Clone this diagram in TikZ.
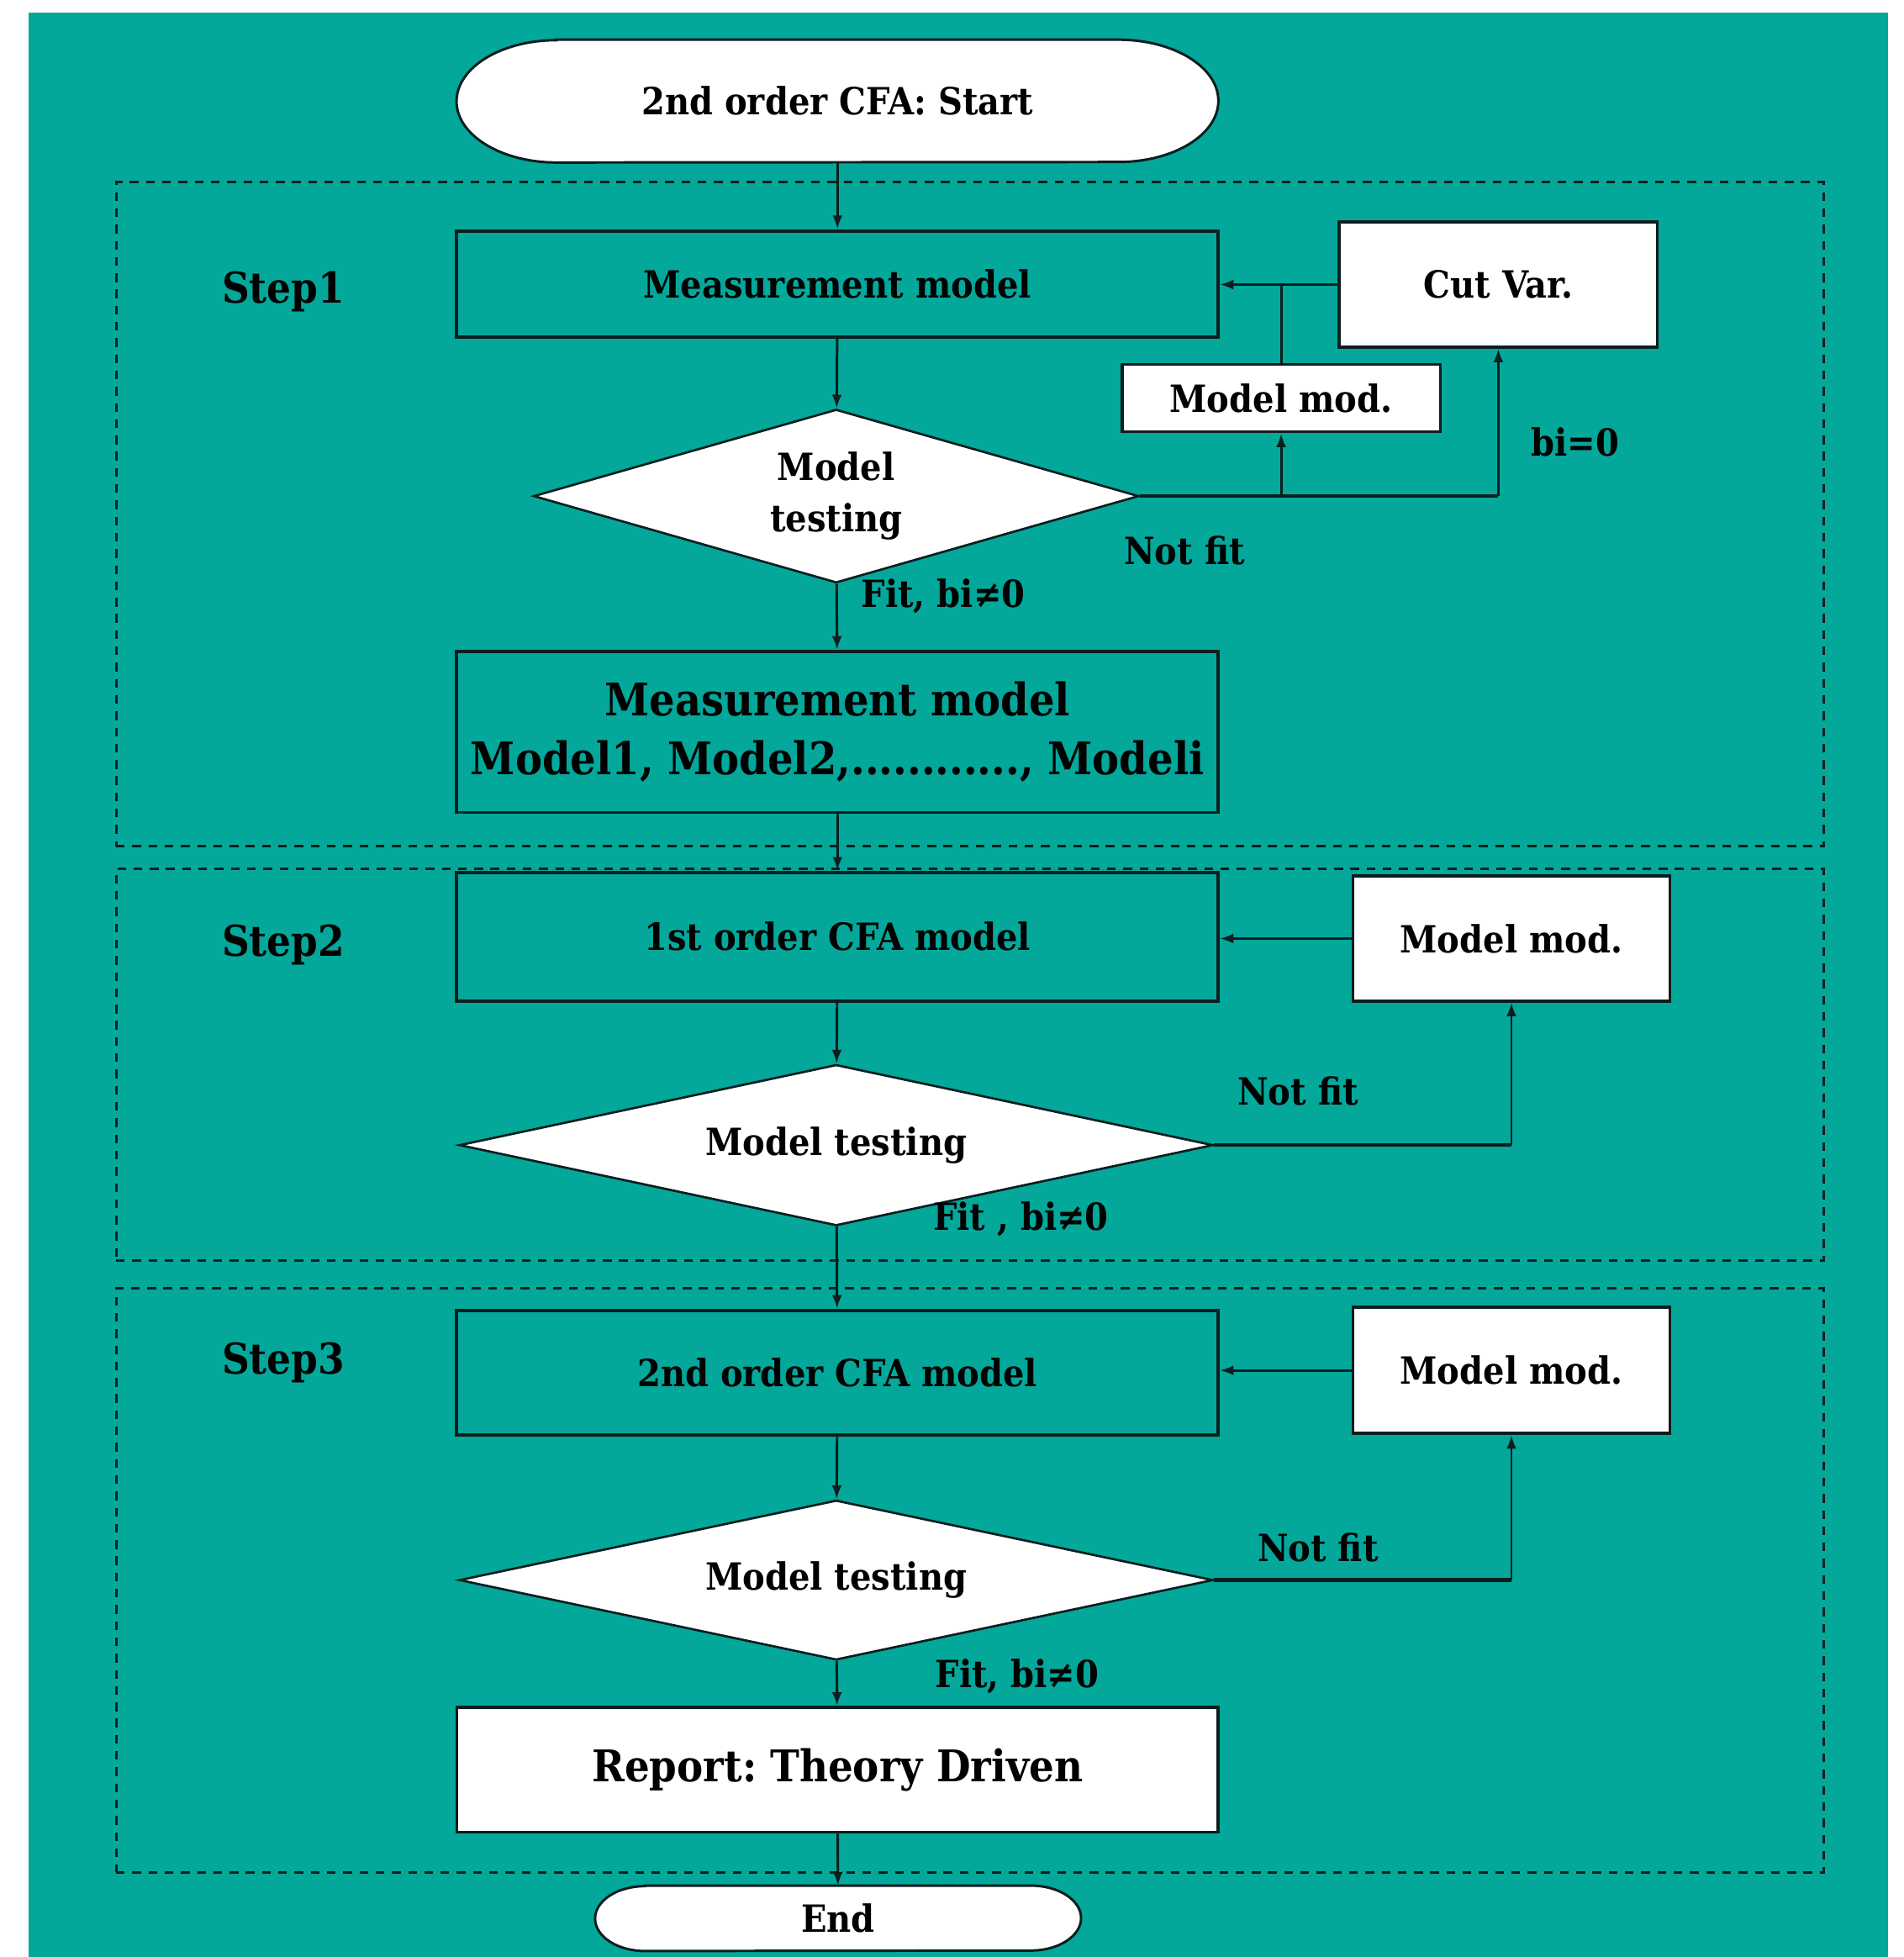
\documentclass[tikz,border=0pt]{standalone}
\usepackage{fontspec}
\setmainfont{DejaVu Serif Condensed}
\usetikzlibrary{shapes.geometric,arrows.meta,backgrounds}
\definecolor{bgteal}{RGB}{3,168,155}
\definecolor{ink}{RGB}{12,30,30}
\frenchspacing
\begin{document}
\begin{tikzpicture}[x=1pt,y=1pt,
  line/.style={draw=ink, line width=2pt},
  arr/.style={line, -{Latex[length=11pt,width=8pt]}},
  heavy/.style={draw=ink, line width=3pt},
  txt/.style={font=\bfseries\fontsize{30}{41}\selectfont, inner sep=0pt},
  tealbox/.style={txt, draw=ink, line width=2.6pt, fill=bgteal, minimum width=610pt, align=center},
  whitebox/.style={txt, draw=ink, line width=2.4pt, fill=white},
  test/.style={txt, diamond, draw=ink, line width=1.8pt, fill=white, align=center},
  term/.style={txt},
  termline/.style={draw=ink, line width=2pt, fill=white},
  frame/.style={draw=ink, line width=2pt, dash pattern=on 7pt off 6pt, inner sep=0pt},
  steplabel/.style={font=\bfseries\fontsize{34}{40}\selectfont, inner sep=0pt},
  edgelabel/.style={txt}]
\useasboundingbox (0,0) rectangle (1525,-1568);
\begin{scope}[on background layer]
  \fill[white] (0,0) rectangle (1525,-1568);
  \fill[bgteal] (23,-10) rectangle (1513,-1568);
\end{scope}

% dashed step frames
\node[frame, minimum width=1368pt, minimum height=532pt] (frame1) at (777,-412) {};
\node[frame, minimum width=1368pt, minimum height=314pt] (frame2) at (777,-853) {};
\node[frame, minimum width=1368pt, minimum height=468pt] (frame3) at (777,-1266) {};

\node[steplabel] (s1) at (227,-234) {Step1};
\node[steplabel] (s2) at (227,-757) {Step2};
\node[steplabel] (s3) at (227,-1092) {Step3};

% terminals
\node[term, minimum width=610pt, minimum height=98pt] (start) at (671,-81) {2nd order CFA: Start};
\node[term, minimum width=389pt, minimum height=52pt] (endnode) at (671.5,-1537) {End};
\begin{scope}[on background layer]
  \path[termline] ([xshift=80pt]start.north west) -- ([xshift=-80pt]start.north east)
     arc[start angle=90, end angle=-90, x radius=80pt, y radius=49pt]
     -- ([xshift=80pt]start.south west)
     arc[start angle=270, end angle=90, x radius=80pt, y radius=49pt] -- cycle;
  \path[termline] ([xshift=40pt]endnode.north west) -- ([xshift=-40pt]endnode.north east)
     arc[start angle=90, end angle=-90, x radius=40pt, y radius=26pt]
     -- ([xshift=40pt]endnode.south west)
     arc[start angle=270, end angle=90, x radius=40pt, y radius=26pt] -- cycle;
\end{scope}

% step 1
\node[tealbox, minimum height=85pt] (mm1) at (671,-227.5) {Measurement model};
\node[whitebox, minimum width=255pt, minimum height=100pt] (cutvar) at (1200.5,-228) {Cut Var.};
\node[whitebox, minimum width=255pt, minimum height=54pt] (mod1) at (1026.5,-319) {Model mod.};
\node[test, minimum width=485pt, minimum height=139pt, aspect=3.49] (test1) at (670,-397.5) {Model\\testing};
\node[tealbox, minimum height=129pt, font=\bfseries\fontsize{36}{47}\selectfont] (mm2) at (671,-586.5)
  {Measurement model\\Model1, Model2,............, Modeli};

% step 2
\node[tealbox, minimum height=103pt] (cfa1) at (671,-750.5) {1st order CFA model};
\node[whitebox, minimum width=254pt, minimum height=100pt] (mod2) at (1211,-752) {Model mod.};
\node[test, minimum width=604pt, minimum height=129pt, aspect=4.68] (test2) at (670,-917.5) {Model testing};

% step 3
\node[tealbox, minimum height=100pt] (cfa2) at (671,-1100) {2nd order CFA model};
\node[whitebox, minimum width=254pt, minimum height=101pt] (mod3) at (1211,-1098) {Model mod.};
\node[test, minimum width=604pt, minimum height=128pt, aspect=4.72] (test3) at (670,-1266) {Model testing};
\node[whitebox, minimum width=610pt, minimum height=100pt, font=\bfseries\fontsize{35}{40}\selectfont] (report) at (671,-1418) {Report: Theory Driven};

% connectors, step 1
\draw[arr] (start) -- (mm1);
\draw[arr] (cutvar.west) -- (cutvar.west -| mm1.east);
\draw[line] (mod1.north) -- (mod1.north |- cutvar.west);
\draw[arr] (mm1) -- (test1);
\draw[heavy] (test1.east) -- (test1.east -| cutvar.south);
\draw[arr] (test1.east -| cutvar.south) -- (cutvar.south);
\draw[arr] (test1.east -| mod1.south) -- (mod1.south);
\draw[arr] (test1) -- (mm2);
\node[edgelabel] (nf1) at (949,-441) {Not fit};
\node[edgelabel] (bi1) at (1262,-354) {bi=0};
\node[edgelabel, anchor=west] (fit1) at (690,-478) {Fit, bi≠0};

% connectors, step 2
\draw[arr] (mm2) -- (cfa1);
\draw[arr] (mod2.west) -- (mod2.west -| cfa1.east);
\draw[arr] (cfa1) -- (test2);
\draw[heavy] (test2.east) -- (test2.east -| mod2.south);
\draw[arr] (test2.east -| mod2.south) -- (mod2.south);
\node[edgelabel] (nf2) at (1040,-874) {Not fit};
\node[edgelabel] (fit2) at (818,-977) {Fit , bi≠0};

% connectors, step 3
\draw[arr] (test2) -- (cfa2);
\draw[arr] (mod3.west) -- (mod3.west -| cfa2.east);
\draw[arr] (cfa2) -- (test3);
\draw[heavy] (test3.east) -- (test3.east -| mod3.south);
\draw[arr] (test3.east -| mod3.south) -- (mod3.south);
\node[edgelabel] (nf3) at (1056,-1240) {Not fit};
\node[edgelabel] (fit3) at (815,-1343) {Fit, bi≠0};
\draw[arr] (test3) -- (report);
\draw[arr] (report) -- (endnode);
\end{tikzpicture}
\end{document}
